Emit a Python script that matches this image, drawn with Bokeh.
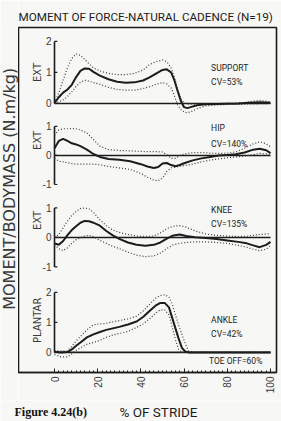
import math
from bokeh.plotting import figure
from bokeh.layouts import column, row
from bokeh.models import Range1d, FixedTicker
from bokeh.core.properties import value
from bokeh.embed import file_html
from bokeh.resources import INLINE

# ---- data: joint moments over the stride (mean and +/- 1 SD) ----
stride_ticks = [0, 20, 40, 60, 80, 100]
stride_tick_labels = ["0", "20", "40", "60", "80", "100"]
stride_minor = [v for v in range(0, 101, 2) if v % 20]

support_x = [0, 2, 4, 6, 8, 10, 12, 14, 16, 18, 21, 25, 29, 33, 37, 41, 44, 47, 50, 52, 54,
             55.5, 57, 58.5, 60, 61.5, 63, 66, 70, 75, 80, 85, 90, 95, 100]
support_mean = [0.02, 0.2, 0.35, 0.45, 0.6, 0.85, 1.05, 1.13, 1.12, 1.02, 0.9, 0.78, 0.7, 0.67,
                0.68, 0.74, 0.84, 0.96, 1.08, 1.1, 1.0, 0.75, 0.4, 0.08, -0.12, -0.15, -0.12,
                -0.06, -0.03, -0.02, -0.01, 0.0, 0.02, 0.04, 0.02]
support_upper = [0.02, 0.35, 0.75, 1.15, 1.45, 1.6, 1.55, 1.42, 1.28, 1.15, 1.05, 0.97, 0.93,
                 0.93, 0.97, 1.08, 1.25, 1.35, 1.4, 1.35, 1.15, 0.85, 0.45, 0.15, 0.02, -0.02,
                 -0.02, -0.02, -0.02, -0.01, 0.0, 0.01, 0.05, 0.1, 0.05]
support_lower = [0.0, 0.05, 0.12, 0.22, 0.38, 0.55, 0.68, 0.75, 0.72, 0.67, 0.62, 0.52, 0.45,
                 0.43, 0.43, 0.48, 0.54, 0.62, 0.67, 0.63, 0.5, 0.25, -0.05, -0.2, -0.28, -0.3,
                 -0.27, -0.17, -0.08, -0.05, -0.03, -0.03, -0.02, -0.01, 0.0]

hip_x = [0, 2, 4, 6, 8, 10, 12, 15, 18, 21, 25, 30, 35, 40, 43, 46, 48, 50, 52, 54, 56, 58,
         60, 64, 68, 72, 76, 80, 84, 88, 92, 95, 98, 100]
hip_mean = [0.25, 0.5, 0.57, 0.5, 0.42, 0.38, 0.32, 0.2, 0.05, -0.05, -0.12, -0.15, -0.2, -0.3,
            -0.38, -0.43, -0.4, -0.28, -0.26, -0.33, -0.37, -0.33, -0.27, -0.17, -0.1, -0.05,
            0.0, 0.02, 0.04, 0.1, 0.2, 0.23, 0.18, 0.08]
hip_upper = [0.7, 0.88, 0.92, 0.92, 0.93, 0.92, 0.88, 0.78, 0.55, 0.32, 0.2, 0.17, 0.16, 0.14,
             0.13, 0.13, 0.13, 0.12, 0.03, -0.1, -0.1, 0.0, 0.05, 0.1, 0.1, 0.08, 0.07, 0.08,
             0.12, 0.25, 0.4, 0.47, 0.4, 0.3]
hip_lower = [-0.1, -0.2, -0.22, -0.25, -0.28, -0.3, -0.3, -0.3, -0.3, -0.32, -0.38, -0.43,
             -0.48, -0.62, -0.75, -0.85, -0.87, -0.78, -0.55, -0.43, -0.4, -0.37, -0.35, -0.3,
             -0.22, -0.16, -0.12, -0.08, -0.05, -0.02, 0.03, 0.07, 0.06, 0.03]

knee_x = [0, 2, 4, 6, 8, 10, 12, 14, 16, 18, 21, 24, 27, 30, 34, 38, 42, 46, 49, 52, 55, 58,
          61, 65, 70, 75, 80, 85, 89, 92, 95, 98, 100]
knee_mean = [-0.2, -0.25, -0.12, 0.08, 0.25, 0.38, 0.5, 0.56, 0.55, 0.5, 0.4, 0.22, 0.07,
             -0.05, -0.17, -0.25, -0.28, -0.25, -0.17, -0.04, 0.07, 0.1, 0.05, 0.01, -0.02,
             -0.05, -0.1, -0.15, -0.2, -0.27, -0.33, -0.25, -0.15]
knee_upper = [0.0, 0.1, 0.33, 0.55, 0.75, 0.88, 0.98, 1.0, 0.97, 0.85, 0.6, 0.4, 0.25, 0.17,
              0.1, 0.05, 0.03, 0.05, 0.15, 0.3, 0.38, 0.4, 0.35, 0.22, 0.12, 0.07, 0.05, 0.03,
              0.04, 0.07, 0.1, 0.12, 0.13]
knee_lower = [-0.25, -0.38, -0.45, -0.35, -0.2, -0.08, 0.0, 0.05, 0.07, 0.03, -0.1, -0.2, -0.3,
              -0.38, -0.5, -0.6, -0.65, -0.63, -0.53, -0.38, -0.25, -0.2, -0.17, -0.15, -0.15,
              -0.17, -0.2, -0.27, -0.33, -0.4, -0.45, -0.4, -0.27]

ankle_x = [0, 3, 6, 8, 10, 12, 15, 18, 21, 24, 27, 30, 34, 38, 41, 44, 47, 49, 51, 53, 54.5,
           56, 57.5, 59, 60.5, 62, 65, 70, 80, 90, 100]
ankle_mean = [0.02, 0.0, 0.01, 0.1, 0.22, 0.33, 0.5, 0.6, 0.68, 0.75, 0.8, 0.85, 0.93, 1.03,
              1.18, 1.38, 1.57, 1.65, 1.65, 1.5, 1.15, 0.8, 0.45, 0.15, 0.03, 0.0, 0.0, 0.0,
              0.0, 0.0, 0.0]
ankle_upper = [0.05, 0.05, 0.05, 0.2, 0.38, 0.53, 0.75, 0.92, 0.95, 0.97, 1.02, 1.06, 1.12,
               1.2, 1.38, 1.6, 1.82, 1.9, 1.92, 1.85, 1.6, 1.25, 0.9, 0.6, 0.3, 0.05, 0.0, 0.0,
               0.0, 0.0, 0.0]
ankle_lower = [-0.07, -0.15, -0.15, -0.05, 0.07, 0.15, 0.27, 0.33, 0.4, 0.5, 0.58, 0.63, 0.7,
               0.83, 0.95, 1.12, 1.32, 1.42, 1.42, 1.25, 0.85, 0.42, 0.08, 0.0, 0.0, 0.0, 0.0,
               0.0, 0.0, 0.0, 0.0]

panel_names = ["support", "hip", "knee", "ankle"]
panel_ticks = {"support": [0, 1, 2], "hip": [-1, 0, 1], "knee": [-1, 0, 1], "ankle": [0, 1, 2]}
panel_sides = {"support": "EXT", "hip": "EXT", "knee": "EXT", "ankle": "PLANTAR"}
panel_titles = {"support": "SUPPORT", "hip": "HIP", "knee": "KNEE", "ankle": "ANKLE"}
panel_cv = {"support": "CV=53%", "hip": "CV=140%", "knee": "CV=135%", "ankle": "CV=42%"}
toe_off_text = "TOE OFF=60%"

series = {
    "support": (support_x, support_mean, support_upper, support_lower),
    "hip": (hip_x, hip_mean, hip_upper, hip_lower),
    "knee": (knee_x, knee_mean, knee_upper, knee_lower),
    "ankle": (ankle_x, ankle_mean, ankle_upper, ankle_lower),
}

# ---- layout of the stacked panels: each panel owns a y range over the shared frame ----
panel_ranges = {
    "support": (-8.68, 2.45),
    "hip": (-7.48, 4.41),
    "knee": (-4.58, 7.12),
    "ankle": (-0.67, 10.83),
}
label_pos = {  # (name label y, CV label y, side label y) in each panel's units
    "support": (1.13, 0.68, 1.0),
    "hip": (0.93, 0.41, 0.52),
    "knee": (0.92, 0.44, 0.58),
    "ankle": (1.07, 0.6, 1.07),
}

INK = "#1c1c1c"
GREY = "#3a3a3a"
PAPER = "#f7f7f5"
PLOTTER = "Roboto"

p = figure(width=263, height=400, output_backend="svg", toolbar_location=None, tools="",
           x_range=Range1d(-16.67, 102.78), y_range=Range1d(0, 1),
           min_border_left=0, min_border_right=5, min_border_top=27, min_border_bottom=28,
           background_fill_color=PAPER, border_fill_color=PAPER)
p.extra_y_ranges = {n: Range1d(*panel_ranges[n]) for n in panel_names}

p.title.text = "MOMENT OF FORCE-NATURAL CADENCE (N=19)"
p.title.text_font = PLOTTER
p.title.text_font_size = "11.7px"
p.title.text_font_style = "normal"
p.title.text_color = INK
p.title.align = "left"
p.title.offset = 0
p.title.standoff = 7

p.outline_line_color = INK
p.outline_line_width = 1.6
p.grid.visible = False
p.yaxis.visible = False

ax = p.xaxis[0]
ax.ticker = FixedTicker(ticks=stride_ticks, minor_ticks=stride_minor)
ax.major_label_overrides = {t: s for t, s in zip(stride_ticks, stride_tick_labels)}
ax.major_label_orientation = math.pi / 2
ax.major_label_text_font = "Liberation Sans"
ax.major_label_text_font_size = "10px"
ax.major_label_text_color = GREY
ax.major_label_standoff = 4
ax.major_tick_in = 4
ax.major_tick_out = 0
ax.minor_tick_in = 2
ax.minor_tick_out = 0
ax.axis_line_color = INK
ax.axis_line_width = 1.6
ax.major_tick_line_color = INK
ax.minor_tick_line_color = INK

for n in panel_names:
    xs, mean, upper, lower = series[n]
    ticks = panel_ticks[n]
    # frame of the panel: zero line, vertical axis, tick marks and tick labels
    p.segment(x0=stride_ticks[0], y0=0, x1=stride_ticks[-1], y1=0,
              y_range_name=n, line_color=INK, line_width=1.6)
    p.segment(x0=stride_ticks[0], y0=min(ticks), x1=stride_ticks[0], y1=max(ticks),
              y_range_name=n, line_color=INK, line_width=1.6)
    p.segment(x0=[stride_ticks[0]] * len(ticks), y0=ticks, x1=[1.3] * len(ticks), y1=ticks,
              y_range_name=n, line_color=INK, line_width=1.2)
    p.text(x=[-1.4] * len(ticks), y=ticks, text=[str(t) for t in ticks], y_range_name=n,
           text_align="right", text_baseline="middle", text_font=value("Liberation Sans"),
           text_font_size="10px", text_color=GREY)
    # curves: +/- 1 SD dotted, mean solid
    p.line(xs, upper, y_range_name=n, line_color=GREY, line_width=1.2, line_dash="1 2")
    p.line(xs, lower, y_range_name=n, line_color=GREY, line_width=1.2, line_dash="1 2")
    p.line(xs, mean, y_range_name=n, line_color=INK, line_width=2.0)
    # annotations
    ny, cy, sy = label_pos[n]
    p.text(x=[72.5, 72.5], y=[ny, cy], text=[panel_titles[n], panel_cv[n]], y_range_name=n,
           text_align="left", text_baseline="middle", text_font=value(PLOTTER),
           text_font_size="8.5px", text_color=INK)
    p.text(x=[-8.0], y=[sy], text=[panel_sides[n]], y_range_name=n, angle=math.pi / 2,
           text_align="center", text_baseline="middle", text_font=value("DejaVu Sans"),
           text_font_size="10px", text_color=GREY)

p.text(x=[71.5], y=[-0.27], text=[toe_off_text], y_range_name="ankle", text_align="left",
       text_baseline="middle", text_font=value(PLOTTER), text_font_size="8.5px", text_color=INK)

# narrow strip holding the common vertical axis title
side = figure(width=18, height=400, output_backend="svg", toolbar_location=None, tools="",
              x_range=Range1d(0, 18), y_range=Range1d(0, 400), min_border=0,
              background_fill_color=PAPER, border_fill_color=PAPER, outline_line_color=None)
side.axis.visible = False
side.grid.visible = False
side.text(x=[9], y=[213], text=["MOMENT/BODYMASS (N.m/kg)"], angle=math.pi / 2,
          text_align="center", text_baseline="middle", text_font=value("DejaVu Sans"),
          text_font_size="16px", text_color=GREY)

# caption strip under the chart
cap = figure(width=281, height=21, output_backend="svg", toolbar_location=None, tools="",
             x_range=Range1d(0, 281), y_range=Range1d(0, 21), min_border=0,
             background_fill_color=PAPER, border_fill_color=PAPER, outline_line_color=None)
cap.axis.visible = False
cap.grid.visible = False
cap.text(x=[14], y=[10], text=["Figure 4.24(b)"], text_align="left", text_baseline="middle",
         text_font=value("Liberation Serif"), text_font_style="bold", text_font_size="12px",
         text_color="#111111")
cap.text(x=[119], y=[10], text=["% OF STRIDE"], text_align="left", text_baseline="middle",
         text_font=value(PLOTTER), text_font_size="13.5px", text_color=INK)

layout = column(row(side, p, spacing=0), cap, spacing=0)
open("out.html", "w").write(file_html(layout, INLINE))
